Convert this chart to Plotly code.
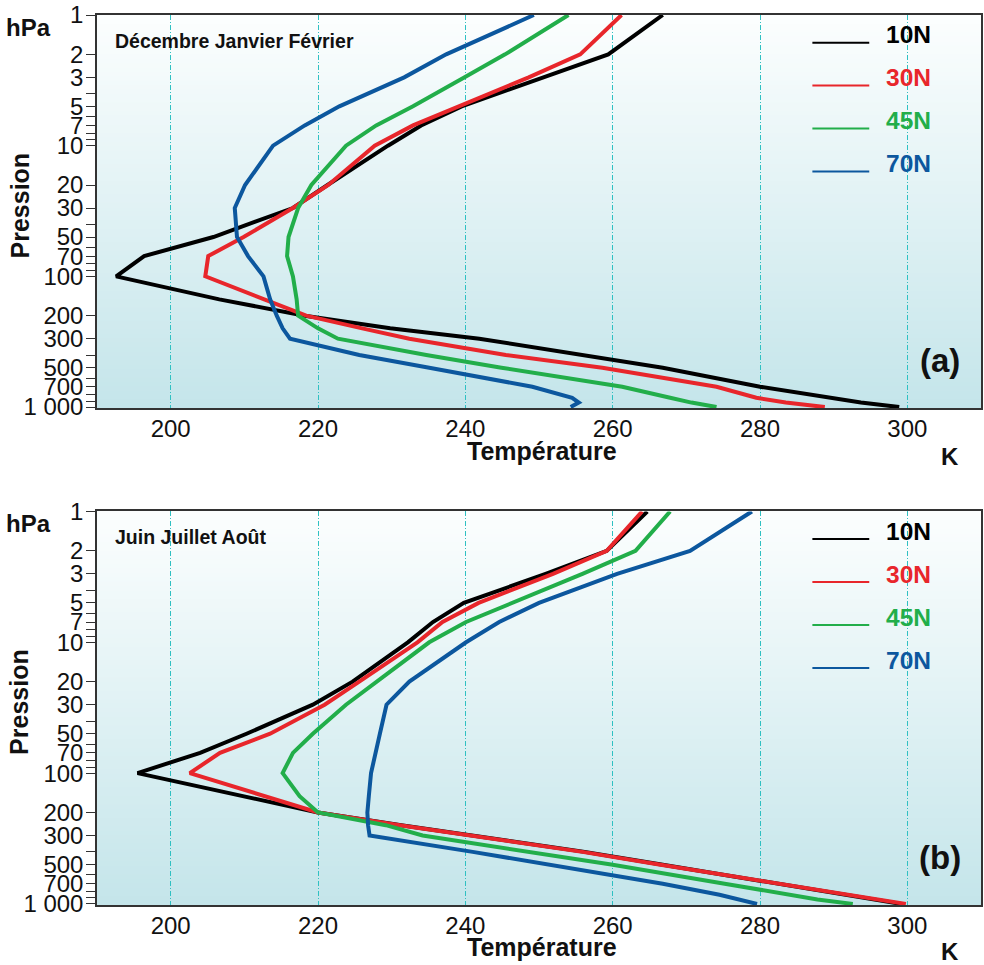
import plotly.graph_objects as go

# Pressure levels (hPa)
pressure = [1, 2, 3, 5, 7, 10, 20, 30, 50, 70, 100, 150, 200, 250, 300, 400, 500, 700, 850, 925, 1000]

# Zonal-mean temperature (K), December-January-February
djf_10N = [266.8, 259.4, 250.6, 239.5, 234.0, 229.5, 221.3, 216.6, 205.8, 196.4, 192.6, 206.6, 218.2, 229.8, 241.9, 256.3, 266.8, 280.0, 289.4, 293.7, 298.9]
djf_30N = [261.2, 255.6, 248.6, 239.2, 232.9, 227.7, 221.4, 216.6, 209.9, 205.1, 204.7, 212.7, 218.4, 226.0, 232.4, 245.5, 258.6, 274.1, 279.5, 283.5, 288.8]
djf_45N = [254.0, 245.4, 239.9, 232.9, 227.9, 223.8, 219.1, 217.3, 216.0, 215.8, 216.6, 217.1, 217.3, 220.0, 222.7, 234.7, 244.9, 261.3, 267.8, 270.7, 274.1]
djf_70N = [249.3, 237.4, 231.7, 222.9, 218.2, 213.9, 210.1, 208.7, 209.0, 210.5, 212.6, 213.5, 214.4, 215.2, 216.2, 225.6, 235.1, 249.1, 254.5, 255.4, 254.3]

# Zonal-mean temperature (K), June-July-August
jja_10N = [264.7, 259.2, 250.9, 239.8, 235.6, 232.2, 224.7, 219.3, 210.3, 204.0, 195.5, 209.8, 220.0, 231.3, 240.9, 256.2, 266.6, 282.8, 292.1, 296.0, 299.2]
jja_30N = [264.0, 259.2, 251.9, 241.8, 236.9, 233.5, 225.6, 220.9, 213.5, 206.7, 202.6, 212.8, 220.0, 231.1, 240.7, 255.9, 266.3, 282.5, 291.8, 295.9, 299.8]
jja_45N = [267.8, 263.1, 255.9, 246.4, 240.1, 235.1, 227.9, 223.8, 219.3, 216.6, 215.2, 217.5, 220.0, 229.2, 234.2, 248.2, 259.8, 275.2, 283.7, 287.8, 292.6]
jja_70N = [278.9, 270.5, 260.6, 250.0, 244.6, 240.1, 232.4, 229.3, 228.4, 227.8, 227.2, 226.9, 226.7, 226.8, 227.0, 241.0, 251.0, 266.8, 274.5, 277.2, 279.6]

series_names = ["10N", "30N", "45N", "70N"]
series_colors = ["#000000", "#e8262b", "#22ae4a", "#0c579e"]
panels = [
    ("Décembre Janvier Février", "(a)", [djf_10N, djf_30N, djf_45N, djf_70N]),
    ("Juin Juillet Août", "(b)", [jja_10N, jja_30N, jja_45N, jja_70N]),
]

# Axis ticks
x_ticks = [200, 220, 240, 260, 280, 300]
y_tickvals = [1, 2, 3, 4, 5, 6, 7, 8, 9, 10, 20, 30, 40, 50, 60, 70, 80, 90,
              100, 200, 300, 400, 500, 600, 700, 800, 900, 1000]
y_ticktext = ["1", "2", "3", "", "5", "", "7", "", "", "10", "20", "30", "", "50", "", "70", "", "",
              "100", "200", "300", "", "500", "", "700", "", "", "1 000"]

FONT = "Liberation Sans, Arial, Helvetica, sans-serif"
W, H = 984, 965
M_L, M_R, M_T, M_B = 97, 1, 14, 60
PW, PH = W - M_L - M_R, H - M_T - M_B


def px(x):
    return (x - M_L) / PW


def py(y):
    return (H - M_B - y) / PH


fig = go.Figure()

# panel geometry in pixels: (top, bottom)
panel_px = [(14, 407.5), (511, 905)]
axis_ids = [("x", "y"), ("x2", "y2")]

for (title, tag, data), (xa, ya) in zip(panels, axis_ids):
    for name, color, temps in zip(series_names, series_colors, data):
        fig.add_trace(go.Scatter(
            x=temps, y=pressure, mode="lines", name=name,
            line=dict(color=color, width=4), xaxis=xa, yaxis=ya,
            showlegend=False, hoverinfo="x+y+name",
        ))

axis_common_x = dict(
    range=[190, 310], tickvals=x_ticks, ticks="", showgrid=True,
    gridcolor="#2fc0c2", gridwidth=1, griddash="5px,2px,1px,2px",
    showline=True, mirror=True, linecolor="#333333", linewidth=1.5,
    zeroline=False, tickfont=dict(family=FONT, size=24, color="#111111"),
    ticklabelstandoff=-2,
)
axis_common_y = dict(
    type="log", range=[3.008, 0], tickvals=y_tickvals, ticktext=y_ticktext,
    ticks="outside", ticklen=9, tickwidth=1.2, tickcolor="#333333",
    showgrid=False, showline=True, mirror=True, linecolor="#333333", linewidth=1.5,
    zeroline=False, tickfont=dict(family=FONT, size=24, color="#111111"),
    ticklabelstandoff=-2,
)

top_dom = [py(407.5), py(14)]
bot_dom = [py(905), py(511)]

fig.update_layout(
    width=W, height=H,
    margin=dict(l=M_L, r=M_R, t=M_T, b=M_B),
    paper_bgcolor="white", plot_bgcolor="white",
    font=dict(family=FONT, color="#111111"),
    xaxis=dict(domain=[0, 1], anchor="y", **axis_common_x),
    yaxis=dict(domain=top_dom, anchor="x", **axis_common_y),
    xaxis2=dict(domain=[0, 1], anchor="y2", **axis_common_x),
    yaxis2=dict(domain=bot_dom, anchor="x2", **axis_common_y),
    showlegend=False,
)

# vertical background gradient inside each panel
shapes = []
N = 90
top_rgb = (252, 254, 254)
bot_rgb = (196, 229, 234)
for xa, ya in axis_ids:
    for i in range(N):
        t = (i + 0.5) / N  # 0 at bottom, 1 at top
        c = tuple(round(b + (tp - b) * t) for tp, b in zip(top_rgb, bot_rgb))
        shapes.append(dict(
            type="rect", xref=f"{xa} domain", yref=f"{ya} domain",
            x0=0, x1=1, y0=i / N, y1=(i + 1) / N + 0.002,
            fillcolor=f"rgb{c}", line=dict(width=0), layer="below",
        ))

annotations = []
bold = lambda s: f"<b>{s}</b>"

for k, ((title, tag, data), (top, bottom)) in enumerate(zip(panels, panel_px)):
    off = top - 14
    # legend: line sample + coloured label
    for j, (name, color) in enumerate(zip(series_names, series_colors)):
        ly = 41.7 + off + j * 43
        shapes.append(dict(
            type="line", xref="paper", yref="paper",
            x0=px(814), x1=px(871), y0=py(ly), y1=py(ly),
            line=dict(color=color, width=2), layer="above",
        ))
        annotations.append(dict(
            text=bold(name), x=px(886), y=py(ly - 7.7), xref="paper", yref="paper",
            xanchor="left", yanchor="middle", showarrow=False,
            font=dict(family=FONT, size=24.5, color=color),
        ))
    # season title
    annotations.append(dict(
        text=bold(title), x=px(113), y=py(40 + off), xref="paper", yref="paper",
        xanchor="left", yanchor="middle", showarrow=False,
        font=dict(family=FONT, size=19.5, color="#111111"),
    ))
    # panel tag
    annotations.append(dict(
        text=bold(tag), x=px(942), y=py(360 + off), xref="paper", yref="paper",
        xanchor="center", yanchor="middle", showarrow=False,
        font=dict(family=FONT, size=33, color="#111111"),
    ))
    # unit labels
    annotations.append(dict(
        text=bold("hPa"), x=px(53), y=py(26.5 + off), xref="paper", yref="paper",
        xanchor="right", yanchor="middle", showarrow=False,
        font=dict(family=FONT, size=24, color="#111111"),
    ))
    annotations.append(dict(
        text=bold("Pression"), x=px(19.5), y=py(205 + off), xref="paper", yref="paper",
        xanchor="center", yanchor="middle", showarrow=False, textangle=-90,
        font=dict(family=FONT, size=25, color="#111111"),
    ))
    annotations.append(dict(
        text=bold("Température"), x=px(543), y=py(450.5 + off), xref="paper", yref="paper",
        xanchor="center", yanchor="middle", showarrow=False,
        font=dict(family=FONT, size=25, color="#111111"),
    ))
    # "K" sits just above the figure's lower edge on the second panel
    k_y = min(456 + off, 951.5)
    annotations.append(dict(
        text=bold("K"), x=px(952), y=py(k_y), xref="paper", yref="paper",
        xanchor="center", yanchor="middle", showarrow=False,
        font=dict(family=FONT, size=24, color="#111111"),
    ))

fig.update_layout(shapes=shapes, annotations=annotations)
fig.write_html("out.html")
